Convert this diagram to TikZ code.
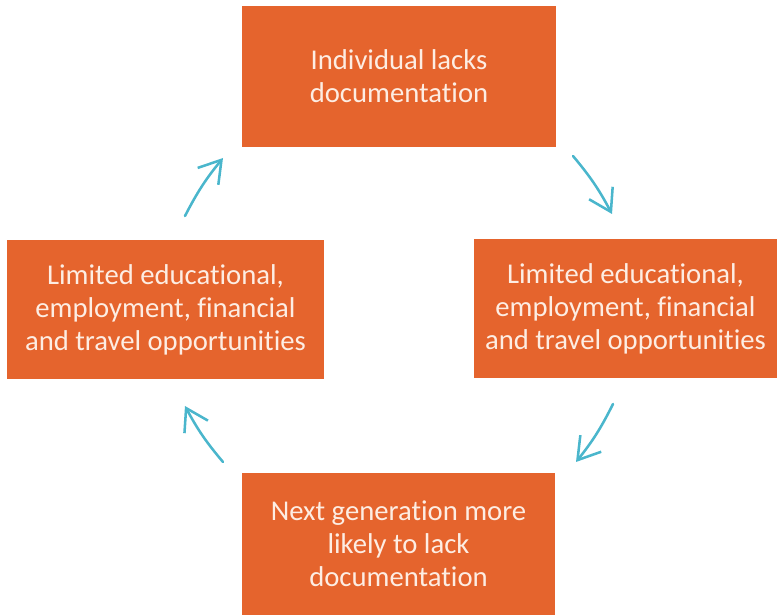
\documentclass[tikz,border=0pt]{standalone}
\usepackage{fontspec}
\setmainfont{Carlito}[Ligatures=NoCommon]
\usetikzlibrary{arrows.meta}
\definecolor{cyclebox}{HTML}{E5642D}
\definecolor{cycletext}{HTML}{FDEDE3}
\definecolor{flow}{HTML}{4AB6CC}

\begin{document}
\begin{tikzpicture}[x=0.75pt, y=-0.75pt,
    box/.style={fill=cyclebox, text=cycletext, align=center, inner sep=0pt, outer sep=0pt,
                font=\fontsize{21.5}{24.75}\selectfont},
    flowarrow/.style={draw=flow, line width=1.9pt, line cap=round,
                      -{Straight Barb[length=16pt, width=20pt, line width=1.9pt]}}]
  \useasboundingbox (0,0) rectangle (779,616);

  % the four stages
  \node[box, minimum width=235.5pt, minimum height=105.75pt] (doc) at (399,76.5)
    {Individual lacks\\documentation};
  \node[box, minimum width=227.25pt, minimum height=104.25pt] (limitR) at (625.5,309)
    {Limited educational,\\employment, financial\\and travel opportunities};
  \node[box, minimum width=234.75pt, minimum height=106.5pt] (nextgen) at (398.5,544)
    {Next generation more\\likely to lack\\documentation};
  \node[box, minimum width=237.75pt, minimum height=104.25pt] (limitL) at (165.5,309.5)
    {Limited educational,\\employment, financial\\and travel opportunities};

  % arrow ends
  \coordinate (a1s) at (185,216);
  \coordinate (a1e) at (223,158);
  \coordinate (a2s) at (573,156);
  \coordinate (a2e) at (612,214);
  \coordinate (a3s) at (613,404);
  \coordinate (a3e) at (576,462);
  \coordinate (a4s) at (223,462);
  \coordinate (a4e) at (185,406);

  % clockwise flow
  \draw[flowarrow] (a1s) to[bend left=6] (a1e);
  \draw[flowarrow] (a2s) to[bend left=6] (a2e);
  \draw[flowarrow] (a3s) to[bend left=6] (a3e);
  \draw[flowarrow] (a4s) to[bend left=6] (a4e);
\end{tikzpicture}
\end{document}
